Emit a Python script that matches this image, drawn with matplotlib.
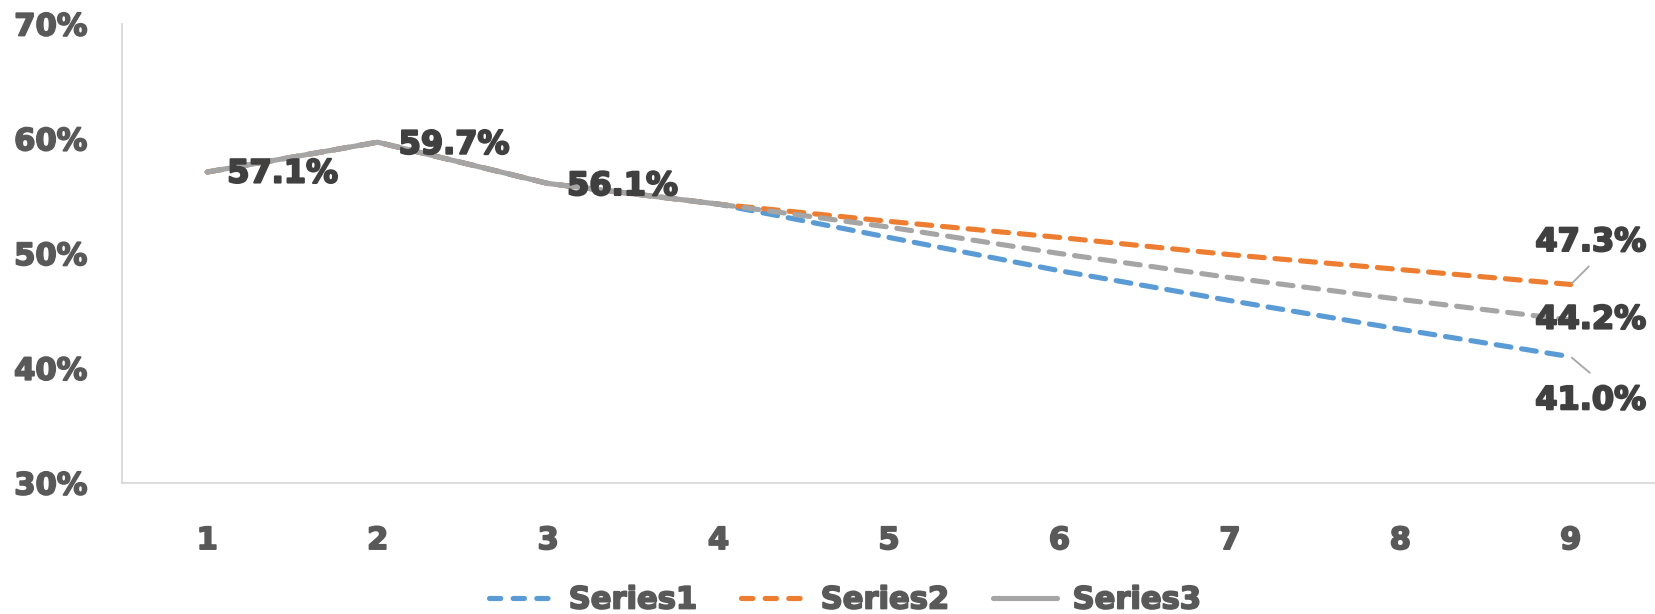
import matplotlib
matplotlib.use("Agg")
import matplotlib.pyplot as plt
import matplotlib.patheffects as pe
from matplotlib.lines import Line2D

# ---- data ----
categories = [1, 2, 3, 4, 5, 6, 7, 8, 9]
series1 = [57.1, 59.7, 56.1, 54.3, 51.4, 48.5, 45.9, 43.4, 41.0]
series2 = [57.1, 59.7, 56.1, 54.3, 52.8, 51.4, 49.9, 48.6, 47.3]
series3 = [57.1, 59.7, 56.1, 54.3, 52.3, 50.0, 47.9, 46.0, 44.2]
series_names = ["Series1", "Series2", "Series3"]
ytick_values = [30, 40, 50, 60, 70]

# ---- style ----
C_BLUE = "#5B9BD5"
C_ORANGE = "#ED7D31"
C_GRAY = "#A5A5A5"
C_TICK = "#595959"
C_LABEL = "#404040"
C_AXIS = "#D9D9D9"
FONT = "DejaVu Sans"
LW = 3.7
DASH = (2.9, 2.1)

def heavy(color, w=1.3):
    return [pe.withStroke(linewidth=w, foreground=color)]

fig = plt.figure(figsize=(16.55, 6.14), dpi=100)
ax = fig.add_axes([122 / 1655, 1 - 483 / 614, (1656 - 122) / 1655, (483 - 24) / 614])

def dashed(xs, ys, color, z):
    ln, = ax.plot(xs, ys, color=color, lw=LW, dash_capstyle="round",
                  solid_capstyle="round", zorder=z)
    ln.set_dashes(DASH)
    return ln

dashed(categories, series1, C_BLUE, 2)
dashed(categories, series2, C_ORANGE, 3)
ax.plot(categories[:4], series3[:4], color=C_GRAY, lw=LW, solid_capstyle="round",
        solid_joinstyle="round", zorder=4)
dashed(categories[3:], series3[3:], C_GRAY, 4)

ax.set_xlim(0.5, 9.5)
ax.set_ylim(30, 70)
ax.set_xticks(categories)
ax.set_xticklabels([str(c) for c in categories])
ax.set_yticks(ytick_values)
ax.set_yticklabels([f"{v}%" for v in ytick_values])
ax.tick_params(axis="both", length=0, labelsize=22, labelcolor=C_TICK)
ax.tick_params(axis="x", pad=31)
ax.tick_params(axis="y", pad=25)
for lab in ax.get_xticklabels() + ax.get_yticklabels():
    lab.set_fontweight("bold")
    lab.set_family(FONT)
    lab.set_path_effects(heavy(C_TICK))

for s in ["top", "right"]:
    ax.spines[s].set_visible(False)
for s in ["left", "bottom"]:
    ax.spines[s].set_color(C_AXIS)
    ax.spines[s].set_linewidth(1.3)
ax.patch.set_alpha(0)

# ---- data labels ----
def label(xv, yv, dx, dy, ha="left"):
    ax.annotate(f"{yv:.1f}%", xy=(xv, yv), xytext=(dx, dy), textcoords="offset pixels",
                ha=ha, va="center", fontsize=23, fontweight="bold", color=C_LABEL,
                family=FONT, zorder=6, path_effects=heavy(C_LABEL, 1.5))

label(categories[0], series3[0], 20, -2)
label(categories[1], series3[1], 21, -3)
label(categories[2], series3[2], 19, -3)
label(categories[8], series2[8], 20, 42, ha="center")
label(categories[8], series3[8], 20, 0, ha="center")
label(categories[8], series1[8], 20, -44, ha="center")

# leader lines
ax.annotate("", xy=(categories[8], series2[8]), xytext=(18, 18), textcoords="offset pixels",
            arrowprops=dict(arrowstyle="-", color="#A6A6A6", lw=1.3, shrinkA=0, shrinkB=1))
ax.annotate("", xy=(categories[8], series1[8]), xytext=(19, -16), textcoords="offset pixels",
            arrowprops=dict(arrowstyle="-", color="#A6A6A6", lw=1.3, shrinkA=0, shrinkB=1))

# ---- legend ----
def handle(color, dashed_style):
    ln = Line2D([], [], color=color, lw=LW, dash_capstyle="round", solid_capstyle="round")
    if dashed_style:
        ln.set_dashes((2.2, 2.4))
    return ln

handles = [handle(C_BLUE, True), handle(C_ORANGE, True), handle(C_GRAY, False)]
leg = fig.legend(handles, series_names, loc="center", bbox_to_anchor=(845 / 1655, 1 - 600 / 614),
                 ncol=3, frameon=False, handlelength=2.1, handletextpad=0.5,
                 columnspacing=1.45, prop={"family": FONT, "weight": "bold", "size": 22})
for t in leg.get_texts():
    t.set_color(C_TICK)
    t.set_path_effects(heavy(C_TICK))

fig.savefig("out.png", dpi=100)
